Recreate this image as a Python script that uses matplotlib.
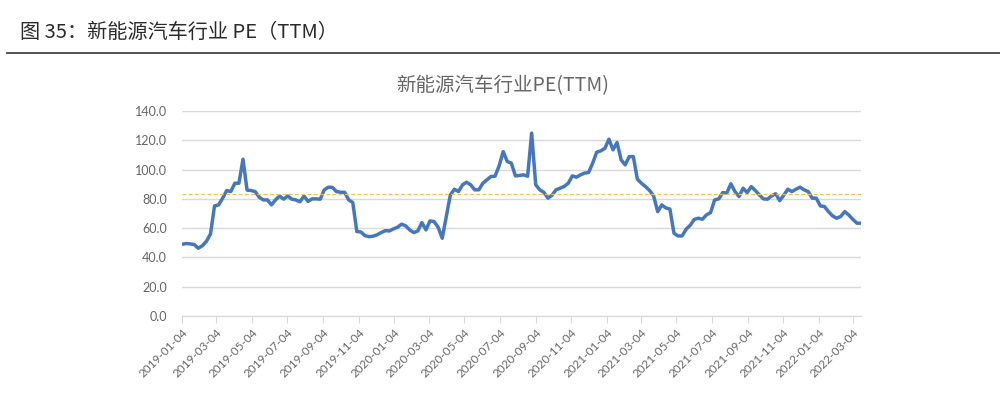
import matplotlib
matplotlib.use("Agg")
import matplotlib.pyplot as plt
import pandas as pd

plt.rcParams['font.family'] = ['Noto Sans CJK SC', 'DejaVu Sans']

# weekly PE (TTM), first week 2019-01-04
start_date = "2019-01-04"
pe_values = [
    49.0, 49.5, 49.3, 48.8, 46.3, 48.0, 51.0, 56.0, 75.2, 75.9,
    80.5, 85.7, 85.0, 90.7, 90.7, 107.1, 86.0, 85.7, 85.0, 81.1,
    79.3, 79.3, 75.9, 79.3, 82.0, 79.8, 82.0, 79.8, 79.3, 78.0,
    82.0, 78.3, 80.0, 80.0, 79.8, 86.2, 88.0, 87.8, 85.0, 84.5,
    84.5, 79.3, 77.5, 57.7, 57.4, 54.9, 54.2, 54.5, 55.5, 57.0,
    58.3, 58.1, 59.5, 60.6, 62.7, 61.6, 58.8, 57.0, 58.1, 63.8,
    58.8, 65.0, 64.5, 60.6, 53.1, 67.9, 82.7, 86.6, 85.0, 89.6,
    91.4, 89.6, 86.2, 86.2, 90.7, 93.0, 95.3, 95.5, 102.6, 112.3,
    105.5, 104.4, 95.7, 96.0, 96.4, 95.5, 124.9, 89.6, 86.2, 84.5,
    80.5, 82.5, 86.2, 87.3, 88.5, 90.7, 95.7, 94.8, 96.4, 97.6,
    98.0, 104.4, 111.9, 112.8, 114.5, 120.8, 113.5, 118.5, 106.7, 103.2,
    108.9, 108.9, 93.4, 90.7, 88.4, 85.7, 82.0, 71.3, 75.9, 73.8,
    73.1, 56.5, 54.7, 54.7, 59.3, 62.0, 66.0, 66.8, 66.1, 69.1,
    70.6, 79.3, 80.0, 84.3, 84.0, 90.3, 85.0, 81.6, 87.3, 84.3,
    88.4, 85.7, 82.7, 80.0, 79.8, 82.0, 83.5, 78.8, 82.5, 86.6,
    85.0, 86.6, 88.0, 86.2, 85.0, 80.5, 80.5, 75.2, 74.8, 71.3,
    68.4, 66.8, 68.0, 71.3, 69.0, 66.0, 63.4, 63.4,
]
avg_pe = 83.2
tick_labels = [
    "2019-01-04", "2019-03-04", "2019-05-04", "2019-07-04", "2019-09-04",
    "2019-11-04", "2020-01-04", "2020-03-04", "2020-05-04", "2020-07-04",
    "2020-09-04", "2020-11-04", "2021-01-04", "2021-03-04", "2021-05-04",
    "2021-07-04", "2021-09-04", "2021-11-04", "2022-01-04", "2022-03-04",
]

dates = pd.date_range(start_date, periods=len(pe_values), freq="7D")
tick_dates = pd.to_datetime(tick_labels)

fig = plt.figure(figsize=(10, 3.98), dpi=100)

# header
fig.text(0.02, 0.918, "图 35：新能源汽车行业 PE（TTM）", fontsize=14.5,
         color="#2b2b2b", ha="left", va="center")
fig.add_artist(plt.Line2D([0.007, 1.0], [0.867, 0.867], color="#444444",
                          lw=1.3, transform=fig.transFigure))
fig.text(0.503, 0.786, "新能源汽车行业PE(TTM)", fontsize=14,
         color="#666666", ha="center", va="center")

ax = fig.add_axes([0.182, 0.206, 0.679, 0.515])
ax.plot(dates, pe_values, color="#4677bd", lw=2.5, solid_joinstyle="round")
ax.axhline(avg_pe, color="#f5c04a", lw=0.9, ls=(0, (3, 2)))

ax.set_ylim(0, 140)
ax.set_xlim(dates[0], dates[-1])
ax.set_yticks(range(0, 141, 20))
ax.set_yticklabels([f"{v:.1f}" for v in range(0, 141, 20)],
                   fontsize=9, color="#666666", family="Lato")
ax.yaxis.grid(True, color="#d9d9d9", lw=1)
ax.set_axisbelow(True)
ax.tick_params(axis="y", length=0, pad=11)

ax.set_xticks(tick_dates)
ax.set_xticklabels(tick_labels, rotation=45, ha="right", rotation_mode="anchor",
                   fontsize=8.5, color="#666666", family="Lato")
ax.tick_params(axis="x", length=5, color="#d9d9d9", pad=3)

for s in ["top", "right", "left"]:
    ax.spines[s].set_visible(False)
ax.spines["bottom"].set_color("#d9d9d9")

fig.savefig("out.png", dpi=100)
